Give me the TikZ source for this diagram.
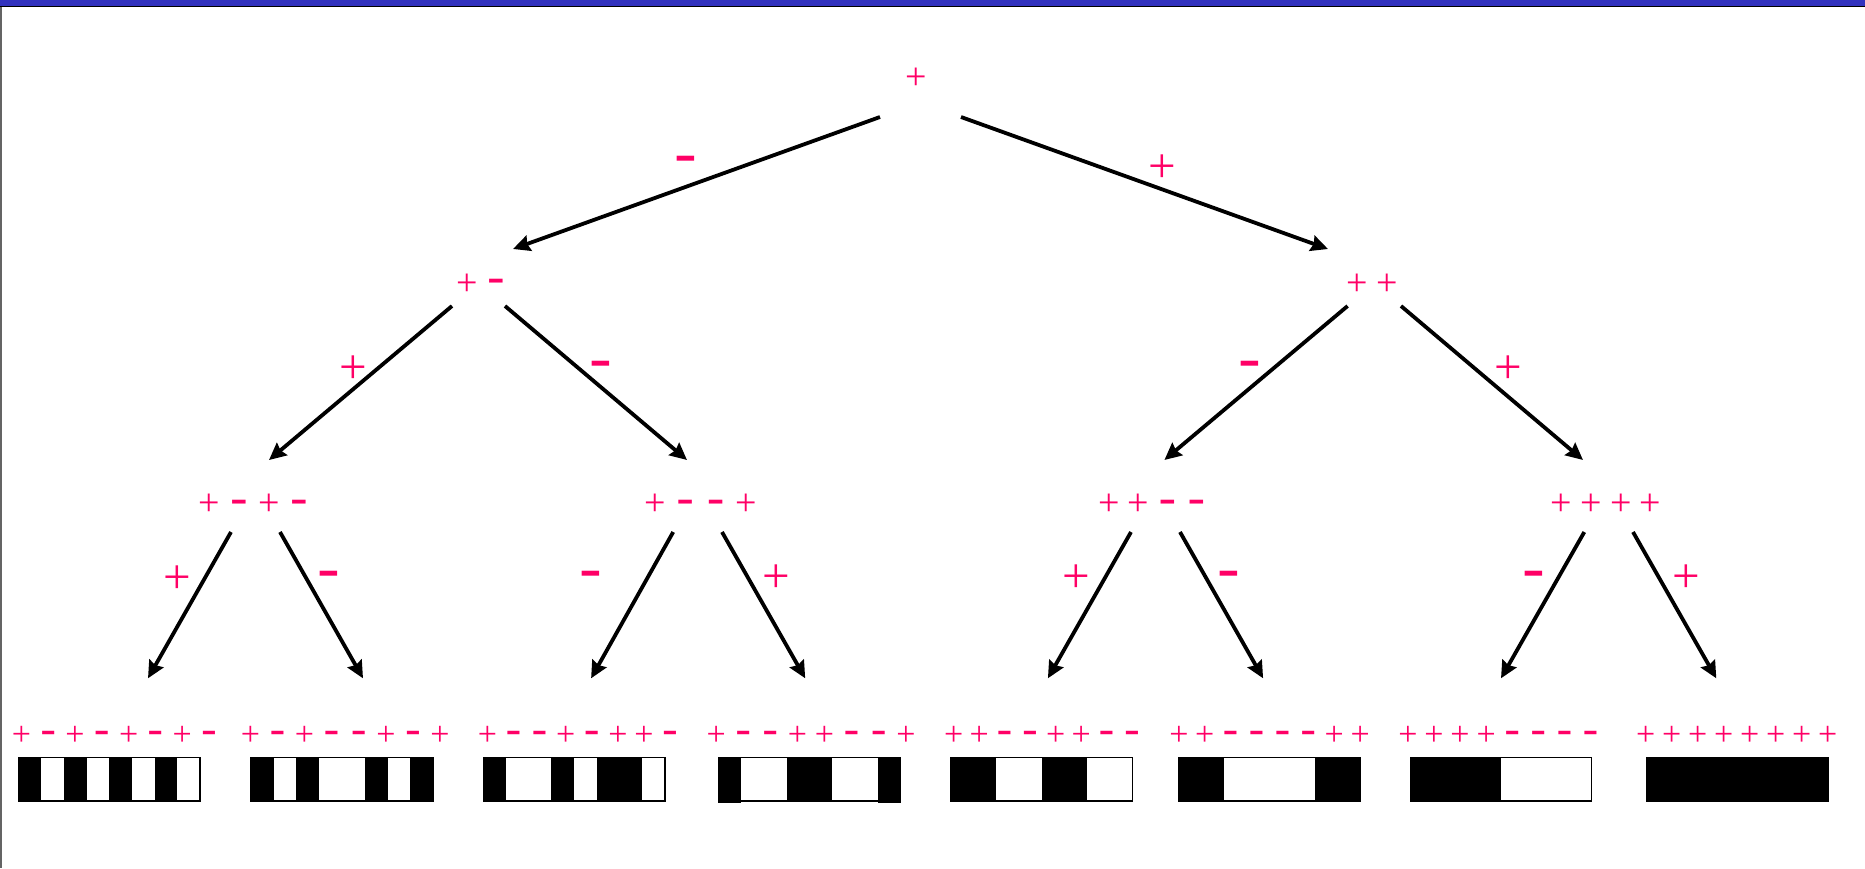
\documentclass[tikz,border=0pt]{standalone}
\usepackage{fontspec}
\usepackage{graphicx}
\usetikzlibrary{arrows.meta}
\newfontfamily\plusfont{Liberation Serif}
\newfontfamily\minusfont{Liberation Sans}
\definecolor{sign}{HTML}{FF0066}
\definecolor{band}{RGB}{50,50,190}
\definecolor{frame}{RGB}{100,100,100}
% sign glyphs on a fixed pitch
\newlength\pitch
\newcommand\Pl{\makebox[\pitch]{\plusfont +}}
\newcommand\Mi{\makebox[\pitch]{\raisebox{0.15em}{\scalebox{1.4}[0.85]{\minusfont\bfseries -}}}}
\tikzset{
  pitch/.style={execute at begin node={\setlength\pitch{#1}}},
  nd/.style={text=sign, inner sep=0pt, font=\fontsize{38}{38}\selectfont,
             text height=28pt, text depth=0pt},
  lf/.style={text=sign, inner sep=0pt, font=\fontsize{34}{34}\selectfont,
             text height=25pt, text depth=0pt},
  el/.style={text=sign, inner sep=0pt, font=\fontsize{49}{49}\selectfont,
             text height=36pt, text depth=0pt, pitch=30pt},
  elm/.style={el, yshift=-1.5pt},
  arr/.style={line width=3.8pt, -{Stealth[length=17pt,width=16pt,inset=2pt]}},
  cellbox/.style={line width=1.2pt}
}
\begin{document}
\begin{tikzpicture}[x=1pt,y=-1pt]
\useasboundingbox (0,0) rectangle (1865,868);
% slide frame
\fill[band] (0,0) rectangle (1865,5.7);
\fill[black] (0,5.7) rectangle (1865,7.3);
\fill[frame] (0,7.3) rectangle (1.8,868);

% tree nodes
\node[nd, pitch=30pt]   (r)  at (916.5,75)    {\Pl};
\node[nd, pitch=29pt]   (a)  at (481.5,281)   {\Pl\Mi};
\node[nd, pitch=30pt]   (b)  at (1372,281)    {\Pl\Pl};
\node[nd, pitch=30pt]   (c1) at (254,501.7)   {\Pl\Mi\Pl\Mi};
\node[nd, pitch=30.5pt] (c2) at (700.5,501.7) {\Pl\Mi\Mi\Pl};
\node[nd, pitch=29pt]   (c3) at (1153,501.7)  {\Pl\Pl\Mi\Mi};
\node[nd, pitch=29.7pt] (c4) at (1606,501.7)  {\Pl\Pl\Pl\Pl};

% leaf sequences
\node[lf, pitch=26.8pt] (s1) at (115.2,733.3)  {\Pl\Mi\Pl\Mi\Pl\Mi\Pl\Mi};
\node[lf, pitch=27.1pt] (s2) at (345.2,733.3)  {\Pl\Mi\Pl\Mi\Mi\Pl\Mi\Pl};
\node[lf, pitch=26.1pt] (s3) at (578.7,733.3)  {\Pl\Mi\Mi\Pl\Mi\Pl\Pl\Mi};
\node[lf, pitch=27.1pt] (s4) at (811,733.3)    {\Pl\Mi\Mi\Pl\Pl\Mi\Mi\Pl};
\node[lf, pitch=25.5pt] (s5) at (1042.9,733.3) {\Pl\Pl\Mi\Mi\Pl\Pl\Mi\Mi};
\node[lf, pitch=25.9pt] (s6) at (1269.5,733.3) {\Pl\Pl\Mi\Mi\Mi\Mi\Pl\Pl};
\node[lf, pitch=26.1pt] (s7) at (1499.2,733.3) {\Pl\Pl\Pl\Pl\Mi\Mi\Mi\Mi};
\node[lf, pitch=26pt]   (s8) at (1736.7,733.3) {\Pl\Pl\Pl\Pl\Pl\Pl\Pl\Pl};

% branches
\draw[arr] ([shift={(-36.5,42)}]r.center) -- ([shift={(31.5,-32)}]a.center);
\draw[arr] ([shift={(44.5,42)}]r.center)  -- ([shift={(-44,-32)}]b.center);
\draw[arr] ([shift={(-29.5,25)}]a.center) -- ([shift={(15,-41.7)}]c1.center);
\draw[arr] ([shift={(23.5,25)}]a.center)  -- ([shift={(-13.5,-41.7)}]c2.center);
\draw[arr] ([shift={(-24.4,25)}]b.center) -- ([shift={(11.4,-41.7)}]c3.center);
\draw[arr] ([shift={(29,25)}]b.center)    -- ([shift={(-23,-41.7)}]c4.center);
\draw[arr] ([shift={(-23,30.3)}]c1.center)  -- ([shift={(32.8,-55)}]s1.center);
\draw[arr] ([shift={(26,30.3)}]c1.center)   -- ([shift={(17.8,-55)}]s2.center);
\draw[arr] ([shift={(-27.3,30.3)}]c2.center) -- ([shift={(12.4,-55)}]s3.center);
\draw[arr] ([shift={(21.5,30.3)}]c2.center)  -- ([shift={(-5.8,-55)}]s4.center);
\draw[arr] ([shift={(-22,30.3)}]c3.center)  -- ([shift={(5,-55)}]s5.center);
\draw[arr] ([shift={(27,30.3)}]c3.center)   -- ([shift={(-6.4,-55)}]s6.center);
\draw[arr] ([shift={(-21.7,30.3)}]c4.center) -- ([shift={(1.8,-55)}]s7.center);
\draw[arr] ([shift={(27,30.3)}]c4.center)   -- ([shift={(-20.4,-55)}]s8.center);

% branch labels
\node[elm] (l0a) at (686,157)     {\Mi};
\node[el]  (l0b) at (1162.7,164.3) {\Pl};
\node[el]  (l1a) at (353.3,365)   {\Pl};
\node[elm] (l1b) at (600.6,362.8) {\Mi};
\node[elm] (l1c) at (1250,362.8)  {\Mi};
\node[el]  (l1d) at (1508,365)    {\Pl};
\node[el]  (l2a) at (177,575)     {\Pl};
\node[elm] (l2b) at (329,572)     {\Mi};
\node[elm] (l2c) at (591.1,572)   {\Mi};
\node[el]  (l2d) at (776.7,574.5) {\Pl};
\node[el]  (l2e) at (1076.4,574.5) {\Pl};
\node[elm] (l2f) at (1228.6,572)  {\Mi};
\node[elm] (l2g) at (1534.3,572)  {\Mi};
\node[el]  (l2h) at (1686.6,574.5) {\Pl};

% striped bars: 1 = black cell, 0 = white cell
\foreach \x/\w/\pat in {
    18.7/181.3/{1,0,1,0,1,0,1,0},
    250.7/182.6/{1,0,1,0,0,1,0,1},
    483.3/181.7/{1,0,0,1,0,1,1,0},
    718.3/182.4/{1,0,0,1,1,0,0,1},
    951/181.3/{1,1,0,0,1,1,0,0},
    1178.3/181.7/{1,1,0,0,0,0,1,1},
    1410.3/181.4/{1,1,1,1,0,0,0,0},
    1647/181.7/{1,1,1,1,1,1,1,1}} {
  \foreach \c [count=\k from 0] in \pat {
    \ifnum\c=1 \fill (\x+\k*\w/8,757.7) rectangle ++(\w/8,43.3); \fi
  }
  \draw[cellbox] (\x,757.7) rectangle ++(\w,43.3);
}
\fill (718.3,801) rectangle (741.1,802.8);
\fill (877.9,801) rectangle (900.7,802.8);
\end{tikzpicture}
\end{document}
